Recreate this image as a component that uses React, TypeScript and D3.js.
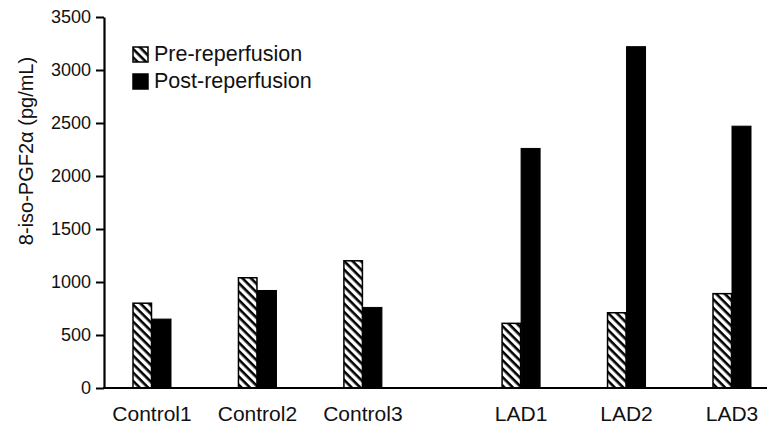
import React, { useRef, useEffect } from "react";
import * as d3 from "d3";

const categories = ["Control1", "Control2", "Control3", "LAD1", "LAD2", "LAD3"];
// slot positions: a gap of half a slot between controls and LAD groups
const slots = [0, 1, 2, 3.5, 4.5, 5.5];
const preValues = [800, 1040, 1200, 610, 710, 890];
const postValues = [650, 920, 760, 2260, 3220, 2470];
const yTicks = [0, 500, 1000, 1500, 2000, 2500, 3000, 3500];
const seriesNames = ["Pre-reperfusion", "Post-reperfusion"];

function App() {
  const ref = useRef<SVGSVGElement>(null);

  const w = 767,
    h = 428;

  useEffect(() => {
    const svg = d3.select(ref.current);
    svg.selectAll("*").remove();

    const font = "Liberation Sans, Arial, sans-serif";
    const ink = "#111";

    const defs = svg.append("defs");
    const pat = defs
      .append("pattern")
      .attr("id", "hatch")
      .attr("patternUnits", "userSpaceOnUse")
      .attr("width", 6)
      .attr("height", 6)
      .attr("patternTransform", "rotate(45)");
    pat.append("rect").attr("width", 6).attr("height", 6).attr("fill", "#fff");
    pat.append("rect").attr("x", 0).attr("y", 0).attr("width", 6).attr("height", 2.6).attr("fill", "#000");

    const y = d3.scaleLinear().domain([0, 3500]).range([388, 17]);
    const x = d3.scaleLinear().domain([0, 5.5]).range([152, 732]);
    const bw = 19;

    const g = svg.append("g");

    // bars
    g.selectAll("rect.pre")
      .data(preValues)
      .enter()
      .append("rect")
      .attr("class", "pre")
      .attr("x", (d, i) => x(slots[i]) - bw)
      .attr("y", d => y(d))
      .attr("width", bw - 0.5)
      .attr("height", d => y(0) - y(d))
      .attr("fill", "url(#hatch)")
      .attr("stroke", "#000")
      .attr("stroke-width", 1.5);

    g.selectAll("rect.post")
      .data(postValues)
      .enter()
      .append("rect")
      .attr("class", "post")
      .attr("x", (d, i) => x(slots[i]))
      .attr("y", d => y(d))
      .attr("width", bw)
      .attr("height", d => y(0) - y(d))
      .attr("fill", "#000")
      .attr("stroke", "#000")
      .attr("stroke-width", 1);

    // y axis
    const yAxis = d3
      .axisLeft(y)
      .tickValues(yTicks)
      .tickFormat(d3.format("d"))
      .tickSize(8)
      .tickPadding(5)
      .tickSizeOuter(0);

    const ya = svg
      .append("g")
      .attr("transform", "translate(104,0)")
      .call(yAxis);
    ya.select(".domain").attr("stroke", "#000").attr("stroke-width", 2.2);
    ya.selectAll(".tick line").attr("stroke", "#000").attr("stroke-width", 2);
    ya.selectAll(".tick text")
      .attr("font-family", font)
      .attr("font-size", 18)
      .attr("fill", ink);

    // x axis line
    svg
      .append("line")
      .attr("x1", 103)
      .attr("x2", w)
      .attr("y1", y(0))
      .attr("y2", y(0))
      .attr("stroke", "#000")
      .attr("stroke-width", 2.2);

    // x labels
    svg
      .selectAll("text.xl")
      .data(categories)
      .enter()
      .append("text")
      .attr("class", "xl")
      .attr("x", (d, i) => x(slots[i]))
      .attr("y", 421)
      .attr("text-anchor", "middle")
      .attr("font-family", font)
      .attr("font-size", 21)
      .attr("fill", ink)
      .text(d => d);

    // y label
    svg
      .append("text")
      .attr("transform", "translate(33,151) rotate(-90)")
      .attr("text-anchor", "middle")
      .attr("font-family", font)
      .attr("font-size", 20)
      .attr("fill", ink)
      .text("8-iso-PGF2\u03b1 (pg/mL)");

    // legend
    const lg = svg.append("g").attr("transform", "translate(133,47)");
    seriesNames.forEach((name, i) => {
      lg.append("rect")
        .attr("x", 0)
        .attr("y", i * 27)
        .attr("width", 15)
        .attr("height", 15)
        .attr("fill", i === 0 ? "url(#hatch)" : "#000")
        .attr("stroke", "#000")
        .attr("stroke-width", 1.5);
      lg.append("text")
        .attr("x", 21)
        .attr("y", i * 27 + 14)
        .attr("font-family", font)
        .attr("font-size", 21.5)
        .attr("fill", ink)
        .text(name);
    });
  }, []);

  return (
    <svg
      ref={ref}
      width={w}
      height={h}
      style={{ position: "absolute", left: 0, top: 0, background: "#fff" }}
    ></svg>
  );
}

export default App;
